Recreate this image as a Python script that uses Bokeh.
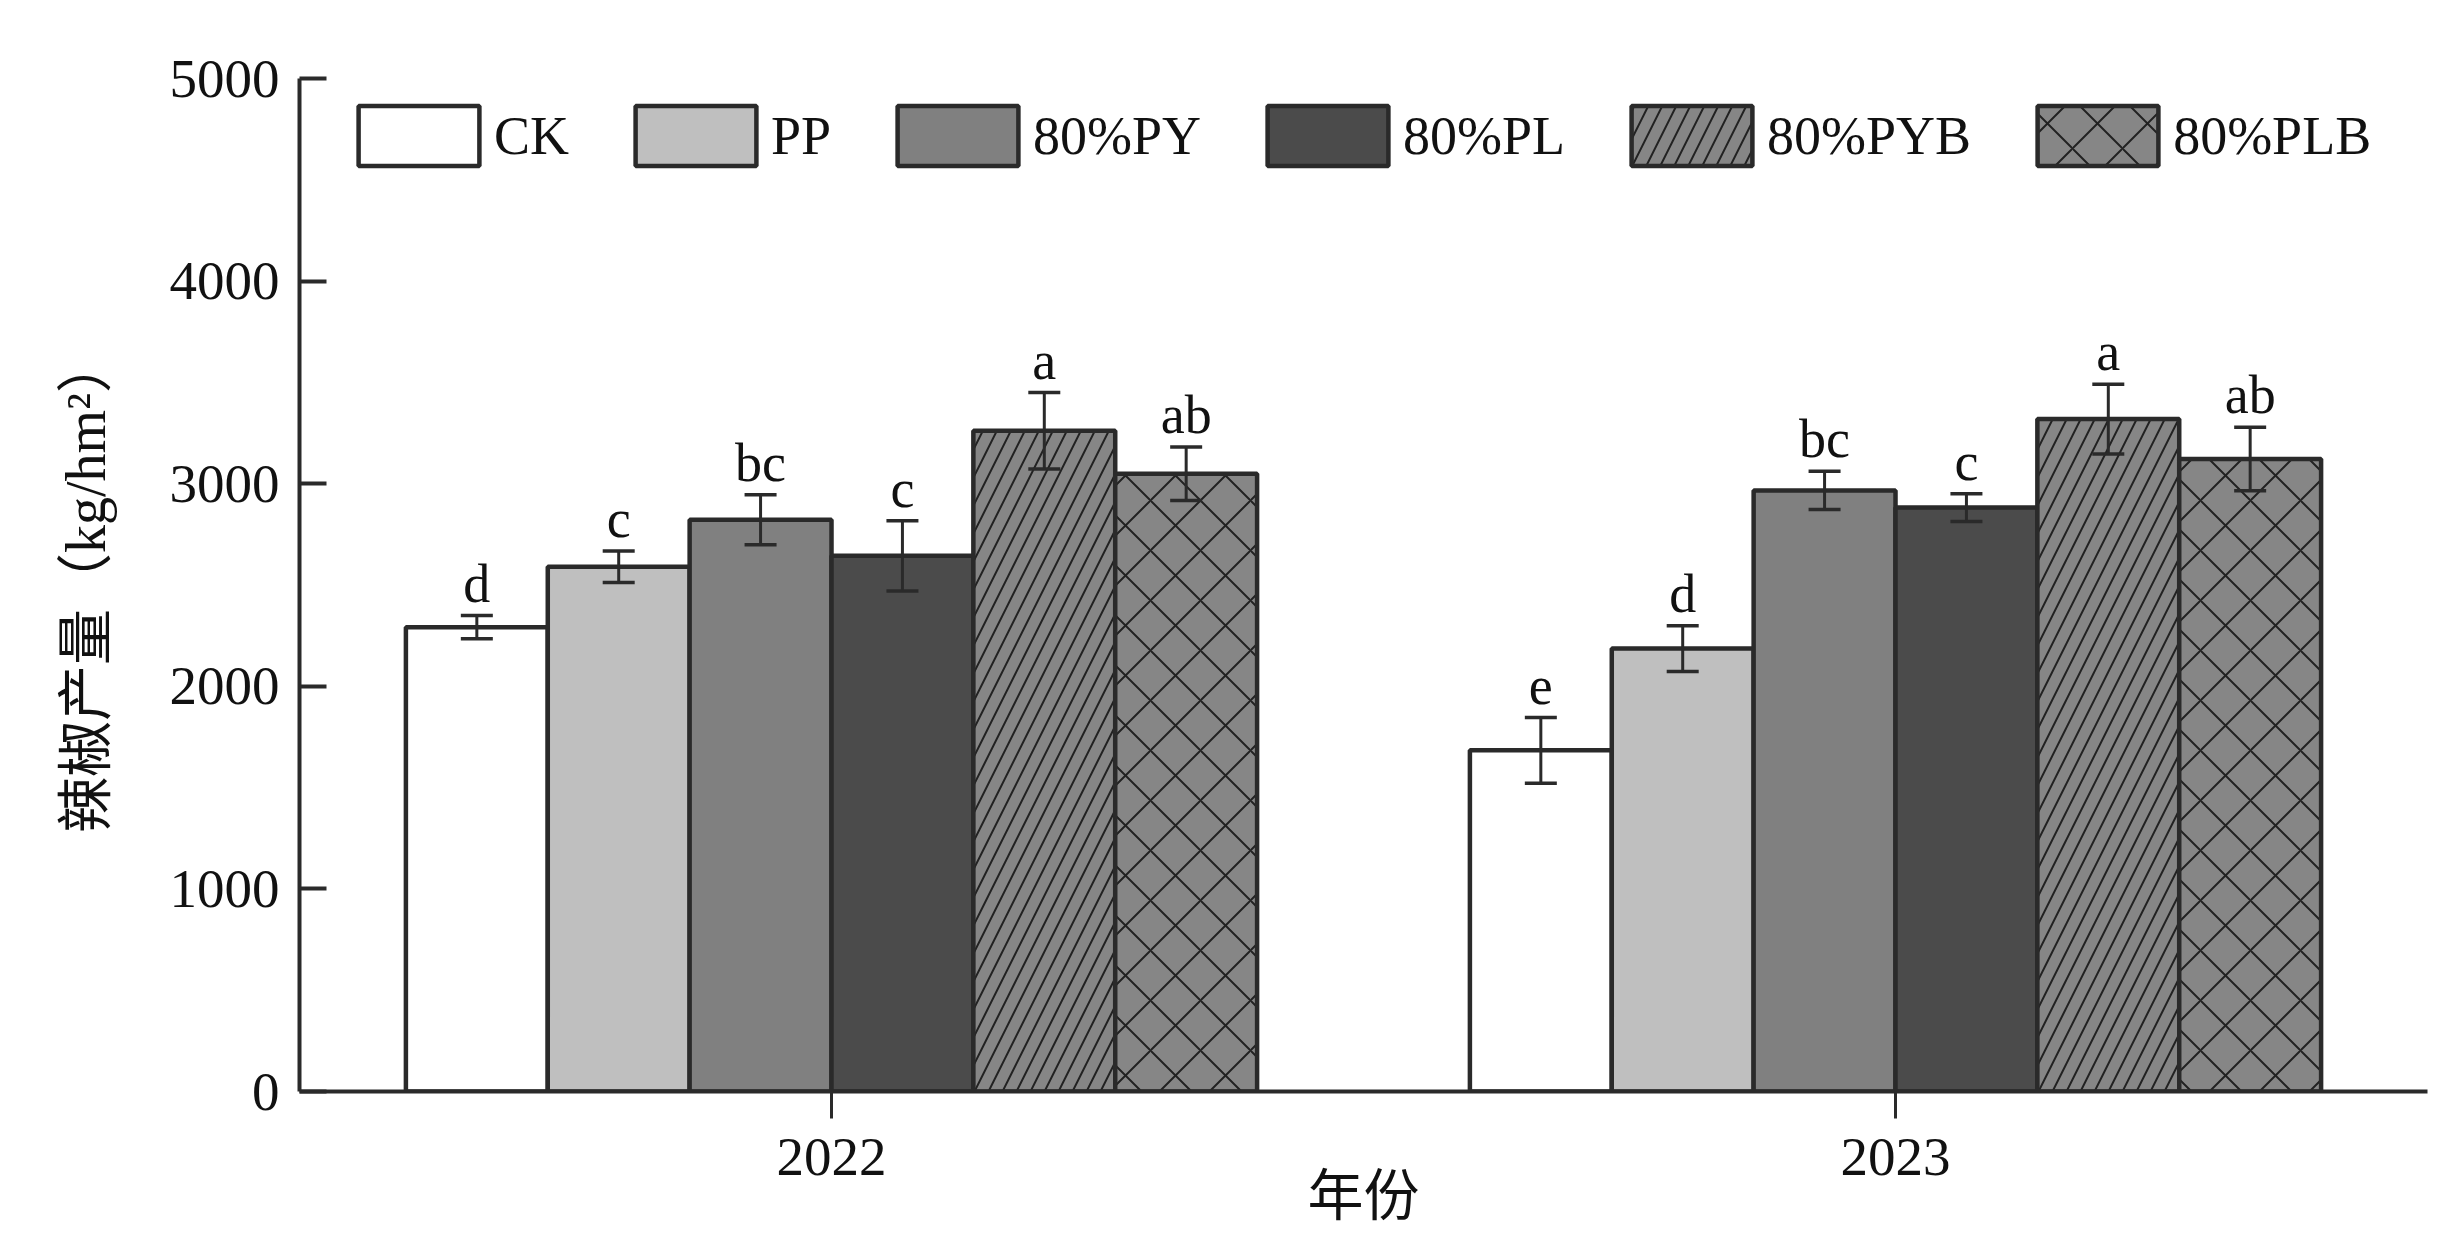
from bokeh.plotting import figure
from bokeh.models import ColumnDataSource, FactorRange, Range1d, Whisker, TeeHead, FixedTicker
from bokeh.transform import dodge
from bokeh.core.properties import value
from bokeh.embed import file_html
from bokeh.resources import INLINE

# ---- data ----
years = ["2022", "2023"]
treatments = ["CK", "PP", "80%PY", "80%PL", "80%PYB", "80%PLB"]
yield_2022 = [2292, 2590, 2822, 2644, 3261, 3049]
yield_2023 = [1684, 2186, 2967, 2882, 3319, 3122]
err_2022 = [57, 78, 123, 173, 189, 132]
err_2023 = [162, 113, 94, 68, 172, 157]
sig_2022 = ["d", "c", "bc", "c", "a", "ab"]
sig_2023 = ["e", "d", "bc", "c", "a", "ab"]
y_ticks = [0, 1000, 2000, 3000, 4000, 5000]

# ---- styles ----
fills = ["#ffffff", "#bfbfbf", "#808080", "#4b4b4b", "#868686", "#868686"]
hatches = [None, None, None, None, "/", "x"]
hatch_scales = [None, None, None, None, 28, 50]
FONT = "Liberation Serif"
CJK = "Liberation Serif, Noto Sans CJK SC"
DARK = "#2a2a2a"
TXT = "#111111"
LABEL_GAP_PX = 32

p = figure(
    width=2447, height=1241,
    x_range=FactorRange(factors=years, range_padding=0),
    y_range=Range1d(0, 5000),
    output_backend="svg", toolbar_location=None,
    min_border_left=299, min_border_right=20, min_border_top=78, min_border_bottom=150,
)
p.outline_line_color = None
p.xgrid.visible = False
p.ygrid.visible = False
p.background_fill_color = "white"

px_per_unit = (1241 - 78 - 150) / 5000.0

n = len(treatments)
bw = 0.8 / n
for i, name in enumerate(treatments):
    vals = [yield_2022[i], yield_2023[i]]
    errs = [err_2022[i], err_2023[i]]
    uppers = [v + e for v, e in zip(vals, errs)]
    src = ColumnDataSource(dict(
        year=years,
        val=vals,
        upper=uppers,
        lower=[v - e for v, e in zip(vals, errs)],
        label_y=[u + LABEL_GAP_PX / px_per_unit for u in uppers],
        sig=[sig_2022[i], sig_2023[i]],
    ))
    off = -0.4 + bw / 2 + i * bw
    kw = {}
    if hatches[i]:
        kw = dict(hatch_pattern=hatches[i], hatch_scale=hatch_scales[i],
                  hatch_color="#222222", hatch_weight=2)
    p.vbar(x=dodge("year", off, range=p.x_range), top="val", bottom=0, width=bw,
           source=src, fill_color=fills[i], line_color=DARK, line_width=4.5,
           legend_label=name, **kw)
    p.add_layout(Whisker(
        source=src, base=dodge("year", off, range=p.x_range), upper="upper", lower="lower",
        line_color=DARK, line_width=3, level="overlay",
        upper_head=TeeHead(size=32, line_width=3.5, line_color=DARK),
        lower_head=TeeHead(size=32, line_width=3.5, line_color=DARK),
    ))
    p.text(x=dodge("year", off, range=p.x_range), y="label_y", text="sig", source=src,
           text_font=value(FONT), text_font_size="54px", text_color=TXT,
           text_align="center", text_baseline="alphabetic")

# legend
lg = p.legend[0]
lg.orientation = "horizontal"
lg.location = (44, 918)
lg.glyph_width = 151
lg.glyph_height = 75
lg.label_standoff = 0
lg.spacing = 51
lg.padding = 0
lg.margin = 0
lg.border_line_alpha = 0
lg.background_fill_alpha = 0
lg.label_text_font = FONT
lg.label_text_font_size = "54px"
lg.label_text_color = TXT

# x axis
xa = p.xaxis[0]
xa.axis_line_width = 4
xa.axis_line_color = DARK
xa.major_tick_out = 27
xa.major_tick_in = 0
xa.major_tick_line_width = 3
xa.major_tick_line_color = DARK
xa.minor_tick_line_color = None
xa.major_label_text_font = FONT
xa.major_label_text_font_size = "55px"
xa.major_label_text_color = TXT
xa.major_label_standoff = 20
xa.axis_label = "年份"
xa.axis_label_text_font = CJK
xa.axis_label_text_font_size = "56px"
xa.axis_label_text_font_style = "normal"
xa.axis_label_text_color = TXT
xa.axis_label_standoff = -13

# y axis
ya = p.yaxis[0]
ya.ticker = FixedTicker(ticks=y_ticks)
ya.axis_line_width = 4
ya.axis_line_color = DARK
ya.major_tick_in = 27
ya.major_tick_out = 0
ya.major_tick_line_width = 4
ya.major_tick_line_color = DARK
ya.minor_tick_line_color = None
ya.major_label_text_font = FONT
ya.major_label_text_font_size = "55px"
ya.major_label_text_color = TXT
ya.major_label_standoff = 20
ya.axis_label = "辣椒产量（kg/hm²）"
ya.axis_label_text_font = CJK
ya.axis_label_text_font_size = "56px"
ya.axis_label_text_font_style = "normal"
ya.axis_label_text_color = TXT
ya.axis_label_standoff = 50

open("out.html", "w").write(file_html(p, INLINE))
